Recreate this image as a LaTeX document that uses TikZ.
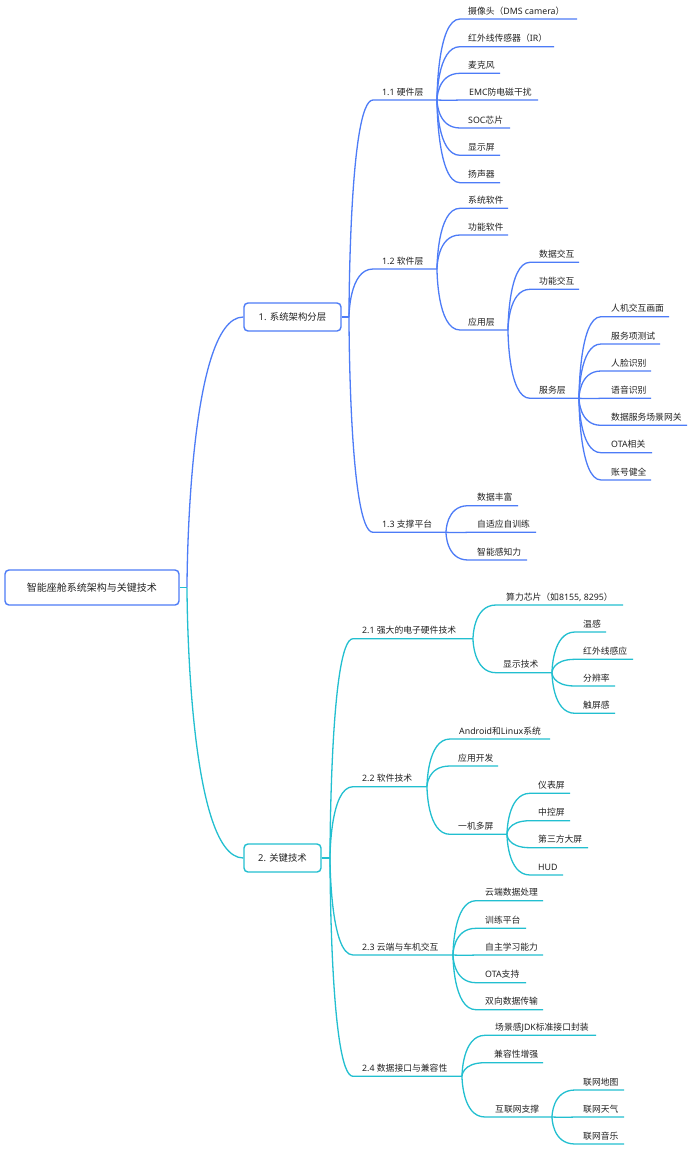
\documentclass[tikz,border=0pt]{standalone}
\usepackage{fontspec}
\setmainfont{Noto Sans}
\newfontfamily\latfont{Noto Sans}
\newfontfamily\cjkfont{Noto Sans CJK SC}
\XeTeXinterchartokenstate=1
\chardef\cjkcls=7
\count255="3000
\loop \XeTeXcharclass\count255=\cjkcls \ifnum\count255<"9FFF \advance\count255 by 1 \repeat
\count255="FF00
\loop \XeTeXcharclass\count255=\cjkcls \ifnum\count255<"FFEF \advance\count255 by 1 \repeat
\XeTeXinterchartoks 0 \cjkcls={\cjkfont}
\XeTeXinterchartoks 4095 \cjkcls={\cjkfont}
\XeTeXinterchartoks \cjkcls 0={\latfont}
\definecolor{mblue}{HTML}{4D7CF7}
\definecolor{mteal}{HTML}{22BFD0}
\definecolor{txt}{HTML}{222222}
\tikzset{
  lbl/.style={inner sep=0pt, text=txt, font=\fontsize{8.8}{10}\selectfont},
  boxnode/.style={draw, rounded corners=4pt, line width=1.4pt, fill=white, text=txt, inner sep=0pt},
  bl/.style={draw=mblue, line width=1.3pt},
  tl/.style={draw=mteal, line width=1.3pt},
}
% #1 name, #2 x left, #3 y line, #4 x right, #5 text pad, #6 text
\newcommand\tnode[6]{%
  \coordinate (#1-l) at (#2,#3);
  \coordinate (#1-r) at (#4,#3);
  \node[lbl, anchor=base west] (#1) at (#2+#5,#3-5) {#6};}
% #1 style, #2 parent junction, #3 child name
\newcommand\cn[3]{\draw[#1] (#2) .. controls (#2) and (#2 |- #3-l) .. (#3-l) -- (#3-r);}
% straight continuation (child on the parent's line), with an invisible sag
\newcommand\cs[3]{\draw[#1] (#2) .. controls +(8,0.35) and +(-8,0.35) .. (#3-l) -- (#3-r);}
\begin{document}
\begin{tikzpicture}[x=1pt,y=-1pt]
\useasboundingbox (0,0) rectangle (692,1163);
\fill[white] (0,0) rectangle (692,1163);

% main boxes
\node[boxnode, draw=mblue, minimum width=174pt, minimum height=35pt, font=\fontsize{10}{12}\selectfont] (root) at (92,587.5) {智能座舱系统架构与关键技术};
\node[boxnode, draw=mblue, minimum width=97pt, minimum height=28pt, font=\fontsize{9.4}{11}\selectfont] (n1) at (292.5,317) {1. 系统架构分层};
\node[boxnode, draw=mteal, minimum width=77pt, minimum height=28pt, font=\fontsize{9.4}{11}\selectfont] (n2) at (282.5,858) {2. 关键技术};
\coordinate (root-j) at (187,587.5);
\coordinate (n1-j) at (349,317);
\coordinate (n2-j) at (330,858);

\draw[tl] (root.east) -- (root-j);
\draw[bl] (root-j) .. controls (root-j) and (root-j |- n1.west) .. (n1.west);
\draw[tl] (root-j) .. controls (root-j) and (root-j |- n2.west) .. (n2.west);
\draw[bl] (n1.east) -- (n1-j);
\draw[tl] (n2.east) -- (n2-j);

% ---------- 1.1 ----------
\tnode{n11}{373}{100}{437}{9}{1.1 硬件层}
\tnode{a1}{460}{19}{577}{8}{摄像头（DMS camera）}
\tnode{a2}{460}{46.7}{554}{8}{红外线传感器（IR）}
\tnode{a3}{460}{73.3}{500}{8}{麦克风}
\tnode{a4}{460}{100}{538}{9}{EMC防电磁干扰}
\tnode{a5}{460}{128}{510}{8}{SOC芯片}
\tnode{a6}{460}{155.3}{500}{8}{显示屏}
\tnode{a7}{460}{182.7}{500}{8}{扬声器}
\cn{bl}{n1-j}{n11}
\foreach \c in {a1,a2,a3,a5,a6,a7} {\cn{bl}{n11-r}{\c}}
\cs{bl}{n11-r}{a4}

% ---------- 1.2 ----------
\tnode{n12}{373}{269}{437}{9}{1.2 软件层}
\tnode{b1}{460}{208.3}{508}{8}{系统软件}
\tnode{b2}{460}{235}{508}{8}{功能软件}
\tnode{b3}{460}{330}{508}{8}{应用层}
\tnode{c1}{530}{262.3}{579}{9}{数据交互}
\tnode{c2}{530}{289.3}{579}{9}{功能交互}
\tnode{c3}{530}{398.3}{579}{9}{服务层}
\tnode{d1}{601}{316.7}{669}{10}{人机交互画面}
\tnode{d2}{601}{344}{660}{10}{服务项测试}
\tnode{d3}{601}{371}{651}{10}{人脸识别}
\tnode{d4}{601}{398.3}{651}{10}{语音识别}
\tnode{d5}{601}{425.3}{687}{10}{数据服务场景网关}
\tnode{d6}{601}{452.7}{652}{10}{OTA相关}
\tnode{d7}{601}{480}{651}{10}{账号健全}
\cn{bl}{n1-j}{n12}
\foreach \c in {b1,b2,b3} {\cn{bl}{n12-r}{\c}}
\foreach \c in {c1,c2,c3} {\cn{bl}{b3-r}{\c}}
\foreach \c in {d1,d2,d3,d5,d6,d7} {\cn{bl}{c3-r}{\c}}
\cs{bl}{c3-r}{d4}

% ---------- 1.3 ----------
\tnode{n13}{373}{532.3}{446}{9}{1.3 支撑平台}
\tnode{e1}{468}{505.7}{518}{9}{数据丰富}
\tnode{e2}{468}{532.3}{536}{9}{自适应自训练}
\tnode{e3}{468}{560}{527}{9}{智能感知力}
\cn{bl}{n1-j}{n13}
\foreach \c in {e1,e3} {\cn{bl}{n13-r}{\c}}
\cs{bl}{n13-r}{e2}

% ---------- 2.1 ----------
\tnode{n21}{353}{638.7}{473}{9}{2.1 强大的电子硬件技术}
\tnode{f1}{496}{605}{623}{10}{算力芯片（如8155, 8295）}
\tnode{f2}{496}{672.7}{552}{7}{显示技术}
\tnode{g1}{575}{632}{606}{8}{温感}
\tnode{g2}{575}{659.3}{633}{8}{红外线感应}
\tnode{g3}{575}{686}{615}{8}{分辨率}
\tnode{g4}{575}{713.3}{615}{8}{触屏感}
\cn{tl}{n2-j}{n21}
\foreach \c in {f1,f2} {\cn{tl}{n21-r}{\c}}
\foreach \c in {g1,g2,g3,g4} {\cn{tl}{f2-r}{\c}}

% ---------- 2.2 ----------
\tnode{n22}{353}{786.7}{427}{9}{2.2 软件技术}
\tnode{h1}{450}{739}{550}{9}{Android和Linux系统}
\tnode{h2}{450}{766}{498}{8}{应用开发}
\tnode{h3}{450}{834.3}{507}{8}{一机多屏}
\tnode{i1}{530}{793.3}{570}{8}{仪表屏}
\tnode{i2}{530}{820.7}{570}{8}{中控屏}
\tnode{i3}{530}{847.7}{588}{8}{第三方大屏}
\tnode{i4}{530}{875}{563}{8}{HUD}
\cn{tl}{n2-j}{n22}
\foreach \c in {h1,h2,h3} {\cn{tl}{n22-r}{\c}}
\foreach \c in {i1,i2,i3,i4} {\cn{tl}{h3-r}{\c}}

% ---------- 2.3 ----------
\tnode{n23}{353}{955}{453}{9}{2.3 云端与车机交互}
\tnode{j1}{476}{900.7}{543}{9}{云端数据处理}
\tnode{j2}{476}{928.3}{526}{9}{训练平台}
\tnode{j3}{476}{955}{543}{9}{自主学习能力}
\tnode{j4}{476}{982.7}{526}{9}{OTA支持}
\tnode{j5}{476}{1009.7}{543}{9}{双向数据传输}
\cn{tl}{n2-j}{n23}
\foreach \c in {j1,j2,j4,j5} {\cn{tl}{n23-r}{\c}}
\cs{tl}{n23-r}{j3}

% ---------- 2.4 ----------
\tnode{n24}{353}{1076.3}{462}{9}{2.4 数据接口与兼容性}
\tnode{k1}{485}{1035.3}{596}{10}{场景感JDK标准接口封装}
\tnode{k2}{485}{1062.7}{543}{9}{兼容性增强}
\tnode{k3}{485}{1117}{552}{10}{互联网支撑}
\tnode{l1}{575}{1090}{624}{8}{联网地图}
\tnode{l2}{575}{1117}{624}{8}{联网天气}
\tnode{l3}{575}{1144}{624}{8}{联网音乐}
\cn{tl}{n2-j}{n24}
\foreach \c in {k1,k2,k3} {\cn{tl}{n24-r}{\c}}
\foreach \c in {l1,l3} {\cn{tl}{k3-r}{\c}}
\cs{tl}{k3-r}{l2}
\end{tikzpicture}
\end{document}
